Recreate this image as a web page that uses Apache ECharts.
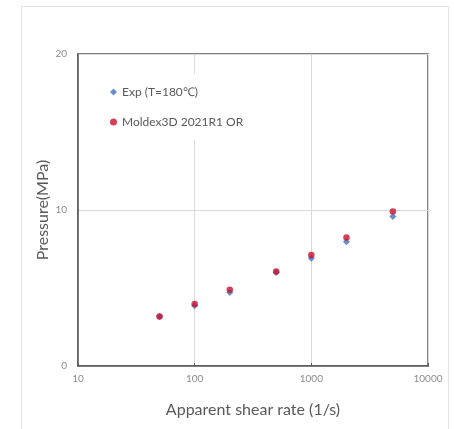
<!DOCTYPE html>
<html>
<head>
<meta charset="utf-8">
<script src="https://cdn.jsdelivr.net/npm/echarts@6/dist/echarts.min.js"></script>
<style>
  html, body { margin: 0; padding: 0; background: #fff; }
  #chart { width: 454px; height: 429px; }
</style>
</head>
<body>
<div id="chart"></div>
<script>
var shearRates = [50, 100, 200, 500, 1000, 2000, 5000];
var expPressure = [3.17, 3.87, 4.71, 5.99, 6.91, 7.96, 9.58];
var moldexPressure = [3.17, 3.98, 4.88, 6.05, 7.12, 8.24, 9.90];
var seriesNames = ['Exp (T=180\u2103)', 'Moldex3D 2021R1 OR'];

function pairs(xs, ys) {
    var out = [];
    for (var i = 0; i < xs.length; i++) {
        out.push([xs[i], ys[i]]);
    }
    return out;
}

var font = 'Lato';
var myChart = echarts.init(document.getElementById('chart'));

var option = {
    animation: false,
    textStyle: { fontFamily: font },
    graphic: [{
        type: 'rect',
        shape: { x: 21.5, y: 6.5, width: 427, height: 440 },
        style: { fill: 'none', stroke: '#e3e3e3', lineWidth: 1 },
        silent: true
    }],
    grid: {
        left: 78, right: 26, top: 54, bottom: 63,
        show: true,
        borderColor: '#595959',
        borderWidth: 1.5,
        backgroundColor: 'transparent'
    },
    legend: {
        orient: 'vertical',
        left: 106,
        top: 74,
        padding: [12, 10, 12, 4],
        itemGap: 18,
        itemWidth: 7,
        itemHeight: 7,
        backgroundColor: '#fff',
        textStyle: { fontSize: 12, color: '#595959', fontFamily: font },
        data: [
            { name: seriesNames[0], icon: 'diamond' },
            { name: seriesNames[1], icon: 'circle' }
        ]
    },
    xAxis: {
        type: 'log',
        logBase: 10,
        min: 10,
        max: 10000,
        name: 'Apparent shear rate (1/s)',
        nameLocation: 'middle',
        nameGap: 36,
        nameMoveOverlap: false,
        nameTextStyle: { fontSize: 16, color: '#595959', fontFamily: font },
        axisLine: { show: true, lineStyle: { color: '#595959', width: 1.5 } },
        axisTick: { show: true, inside: true, length: 3, lineStyle: { color: '#595959' } },
        minorTick: { show: false },
        axisLabel: {
            fontSize: 10, color: '#8c8c8c', margin: 8, fontFamily: font,
            formatter: function (v) { return String(Math.round(v)); }
        },
        splitLine: { show: true, lineStyle: { color: '#d9d9d9', width: 1 } }
    },
    yAxis: {
        type: 'value',
        min: 0,
        max: 20,
        interval: 10,
        name: 'Pressure(MPa)',
        nameLocation: 'middle',
        nameGap: 27,
        nameMoveOverlap: false,
        nameTextStyle: { fontSize: 16, color: '#595959', fontFamily: font },
        axisLine: { show: true, lineStyle: { color: '#595959', width: 1.5 } },
        axisTick: { show: false },
        axisLabel: { fontSize: 10, color: '#8c8c8c', margin: 11, fontFamily: font },
        splitLine: { show: true, lineStyle: { color: '#d9d9d9', width: 1 } }
    },
    series: [
        {
            name: seriesNames[0],
            type: 'scatter',
            symbol: 'diamond',
            symbolSize: 7,
            itemStyle: { color: '#4472C4' },
            data: pairs(shearRates, expPressure),
            z: 2
        },
        {
            name: seriesNames[1],
            type: 'scatter',
            symbol: 'circle',
            symbolSize: 6.5,
            itemStyle: { color: '#C8102E' },
            data: pairs(shearRates, moldexPressure),
            z: 3
        }
    ]
};
myChart.setOption(option);
</script>
</body>
</html>
